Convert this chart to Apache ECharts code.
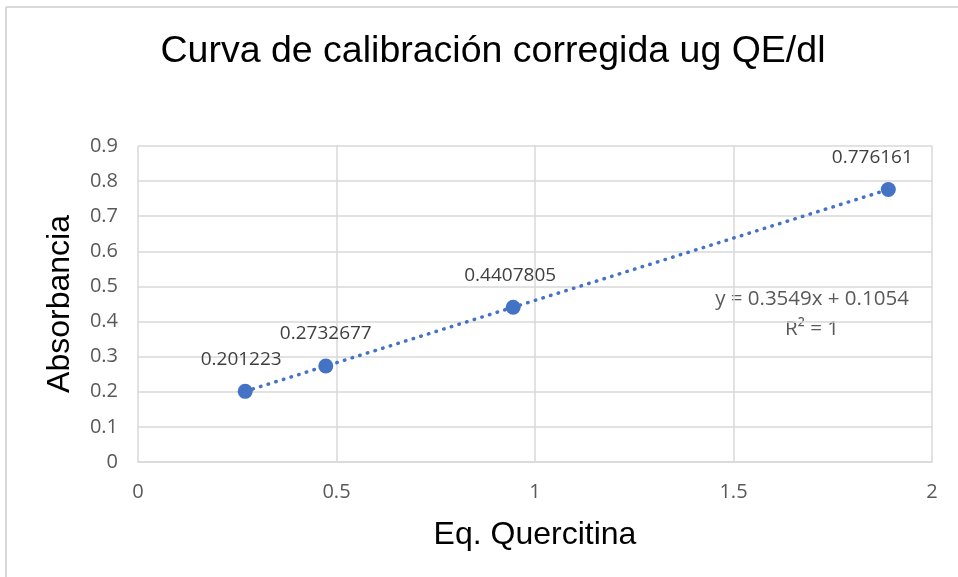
<!DOCTYPE html>
<html>
<head>
<meta charset="utf-8">
<script src="https://cdn.jsdelivr.net/npm/echarts@6/dist/echarts.min.js"></script>
<style>html,body{margin:0;padding:0;background:#fff}#c{width:958px;height:577px}</style>
</head>
<body>
<div id="c"></div>
<script>
var titleText = 'Curva de calibración corregida ug QE/dl';
var xName = 'Eq. Quercitina';
var yName = 'Absorbancia';
var xValues = [0.27, 0.473, 0.945, 1.89];
var yValues = [0.201223, 0.2732677, 0.4407805, 0.776161];
var pointLabels = ['0.201223', '0.2732677', '0.4407805', '0.776161'];
var trendX = [0.27, 1.89];
var trendY = [0.2012, 0.7762];
var equationText = 'y = 0.3549x + 0.1054';
var r2Text = 'R² = 1';

var blue = '#4472C4';
var gridCol = '#d9d9d9';
var labelOffsets = [[-4, 0], [0, 0], [-3, 0], [-16, 0]];

var chart = echarts.init(document.getElementById('c'));
chart.setOption({
  animation: false,
  backgroundColor: '#fff',
  title: {
    text: titleText, left: 488, top: 28, textAlign: 'center',
    textStyle: {fontFamily: 'Liberation Sans, Arial', fontWeight: 'normal', fontSize: 37.5, color: '#000'}
  },
  grid: {left: 138, right: 26, top: 146, bottom: 115},
  xAxis: {
    type: 'value', min: 0, max: 2, interval: 0.5,
    name: xName, nameLocation: 'middle', nameGap: 57,
    nameTextStyle: {fontFamily: 'Liberation Sans, Arial', fontSize: 32, color: '#000'},
    axisLine: {show: true, lineStyle: {color: gridCol, width: 1.5}},
    axisTick: {show: false},
    axisLabel: {margin: 20, fontFamily: 'Open Sans, Liberation Sans', fontSize: 20, color: '#595959'},
    splitLine: {show: true, lineStyle: {color: gridCol, width: 1.5}}
  },
  yAxis: {
    type: 'value', min: 0, max: 0.9, interval: 0.1,
    name: yName, nameLocation: 'middle', nameGap: 62,
    nameTextStyle: {fontFamily: 'Liberation Sans, Arial', fontSize: 32, color: '#000'},
    axisLine: {show: false},
    axisTick: {show: false},
    axisLabel: {margin: 20, fontFamily: 'Open Sans, Liberation Sans', fontSize: 20, color: '#595959'},
    splitLine: {show: true, lineStyle: {color: gridCol, width: 1.5}}
  },
  series: [
    {
      type: 'line', data: trendX.map(function (x, i) { return [x, trendY[i]]; }),
      symbol: 'none', silent: true, z: 2,
      lineStyle: {color: blue, width: 3.5, type: [0.5, 7.5], cap: 'round'}
    },
    {
      type: 'scatter', z: 3,
      data: xValues.map(function (x, i) {
        return {value: [x, yValues[i]], label: {offset: labelOffsets[i]}};
      }),
      symbolSize: 15,
      itemStyle: {color: blue, opacity: 1},
      label: {
        show: true, position: 'top', distance: 15,
        fontFamily: 'Open Sans, Liberation Sans', fontSize: 19, color: '#404040',
        formatter: function (p) { return pointLabels[p.dataIndex]; }
      }
    }
  ],
  graphic: [
    {type: 'line', shape: {x1: 6, y1: 7, x2: 958, y2: 7}, style: {stroke: gridCol, lineWidth: 2}},
    {type: 'line', shape: {x1: 6, y1: 7, x2: 6, y2: 577}, style: {stroke: gridCol, lineWidth: 2}},
    {type: 'text', x: 812, y: 299, style: {text: equationText, textAlign: 'center', textVerticalAlign: 'middle', fontFamily: 'Open Sans, Liberation Sans', fontSize: 20.5, fill: '#595959'}},
    {type: 'text', x: 812, y: 329, style: {text: r2Text, textAlign: 'center', textVerticalAlign: 'middle', fontFamily: 'Open Sans, Liberation Sans', fontSize: 20.5, fill: '#595959'}}
  ]
});
</script>
</body>
</html>
